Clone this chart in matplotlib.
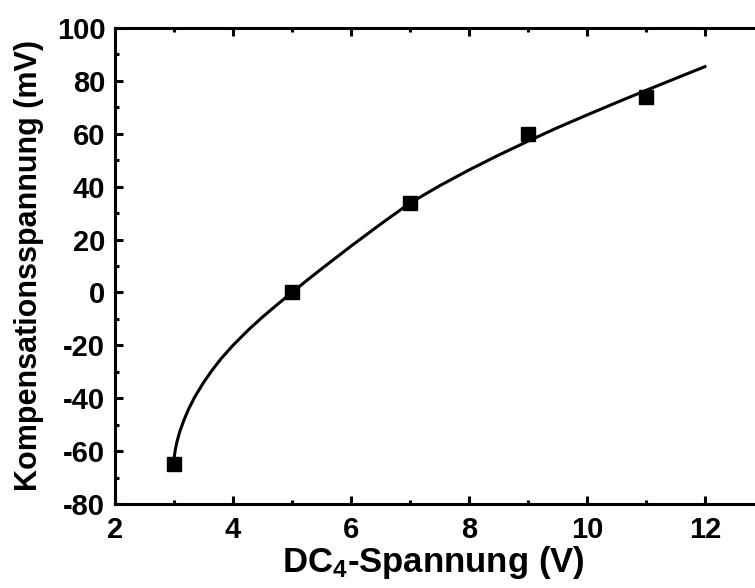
import matplotlib.pyplot as plt
from matplotlib.ticker import MultipleLocator

plt.rcParams['font.family'] = ['Liberation Sans', 'DejaVu Sans']
plt.rcParams['font.weight'] = 'bold'
plt.rcParams['mathtext.default'] = 'regular'
plt.rcParams['axes.unicode_minus'] = False

# measured points
dc_volt = [3, 5, 7, 9, 11]
komp_mv = [-65, 0, 34, 60, 74]

# fit curve
fit_x = [3.0, 3.02, 3.05, 3.1, 3.17, 3.25, 3.35, 3.5, 3.65, 3.8, 4.0, 4.25,
         4.5, 4.75, 5.0, 5.25, 5.5, 6.0, 6.5, 7.0, 7.5, 8.0, 8.5, 9.0, 9.5,
         10.0, 10.5, 11.0, 11.5, 12.0]
fit_y = [-63.0, -59.8, -56.5, -52.5, -48.2, -44.0, -39.6, -34.1, -29.3, -25.0,
         -20.0, -14.4, -9.3, -4.6, 0.0, 4.5, 8.9, 17.5, 25.8, 33.8, 40.3, 46.3,
         51.9, 57.2, 62.3, 67.1, 71.8, 76.4, 80.9, 85.4]

fig = plt.figure(figsize=(7.55, 5.88), dpi=100)
ax = fig.add_axes([0.1523, 0.1429, 0.8596, 0.8095])

ax.plot(fit_x, fit_y, color='black', linewidth=2.2, zorder=2)
ax.plot(dc_volt, komp_mv, linestyle='none', marker='s', markersize=10,
        color='black', zorder=3)

ax.set_xlim(2, 13)
ax.set_ylim(-80, 100)
ax.xaxis.set_major_locator(MultipleLocator(2))
ax.xaxis.set_minor_locator(MultipleLocator(1))
ax.yaxis.set_major_locator(MultipleLocator(20))
ax.yaxis.set_minor_locator(MultipleLocator(10))

for s in ax.spines.values():
    s.set_linewidth(2.2)
ax.tick_params(which='both', direction='in', top=True, right=True, width=2.2)
ax.tick_params(which='major', length=6, labelsize=21)
ax.tick_params(axis='x', which='major', pad=9)
ax.tick_params(axis='y', which='major', pad=7)
ax.tick_params(which='minor', length=3)

ax.set_xlabel('DC$_\\mathregular{4}$-Spannung (V)', fontsize=25, fontweight='bold',
              labelpad=2)
ax.xaxis.set_label_coords(0.49, -0.085)
ax.set_ylabel('Kompensationsspannung (mV)', fontsize=22, fontweight='bold',
              labelpad=9)

fig.savefig('out.png', dpi=100)
